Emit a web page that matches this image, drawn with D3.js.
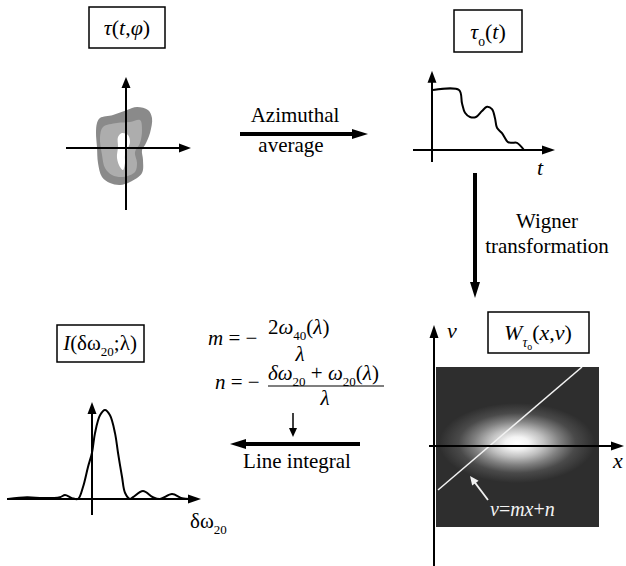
<!DOCTYPE html>
<html><head><meta charset="utf-8">
<script src="https://cdn.jsdelivr.net/npm/d3@7"></script>
<style>body{margin:0;background:#fff} svg{display:block}</style>
</head><body><svg id="c" width="626" height="566"></svg>
<script>
// ---------- data ----------
// tau(t,phi) contour levels (outer, middle, inner)
const blobOuter  = [[-29,25],[-26,30],[-13,33],[1,38],[11,41],[22,38],[26,30],[24,15],[19,3],[16,-2],[17,-12],[16,-25],[4,-34],[-6,-37],[-16,-35],[-24,-29],[-28,-15],[-29,1],[-30,15]];
const blobMiddle = [[-26,11],[-23,21],[-9,25],[4,26],[14,28],[16,18],[14,5],[9,-4],[11,-15],[9,-24],[-3,-29],[-14,-27],[-21,-20],[-24,-7]];
const blobInner  = [[-8,11],[-4,15],[2,13],[4,6],[2,0],[-1,-7],[-1,-15],[-3,-22],[-6,-19],[-9,-10],[-8,1]];
const blobShades = ["#8a8a8a","#adadad","#ffffff"];
// tau_o(t)
const tau0T = [0.1,2.7,3.0,3.3,3.8,4.4,5.0,5.5,6.0,6.3,6.5,7.0,7.6,8.0,8.5,9.2];
const tau0V = [1.0,1.0,0.78,0.62,0.55,0.55,0.65,0.72,0.68,0.53,0.37,0.28,0.13,0.12,0.12,0.0];
// I(dw20; lambda)
const intensityX = [-8.4,-6.5,-4.9,-3.2,-2.7,-2.0,-1.4,-0.9,-0.4,0.0,0.3,0.8,1.3,1.8,2.3,2.6,3.0,3.3,3.8,4.1,5.1,6.1,6.8,8.0,9.0,9.8];
const intensityY = [0,0.02,0.01,0.02,0.045,0.01,0,0.135,0.36,0.52,0.74,0.94,1.0,0.94,0.74,0.52,0.25,0.07,0,0.02,0.09,0.02,0,0.055,0.01,0];
// Wigner distribution and line nu = m x + n
const wignerPeak = [8.3, 0.3];
const wignerSpread = [7.8, 4.0];
const wignerExtent = [[0.2, 16.5],[-8.1, 7.9]];
const lineSlope = 0.854, lineIntercept = -4.74;
const lineXRange = [0.4, 14.8];

// choose an installed serif face
function pickFont(){
  const c = document.createElement("canvas").getContext("2d");
  const s = "Azimuthal average Line integral WMmil";
  c.font = "40px monospace"; const mono = c.measureText(s).width;
  c.font = "40px sans-serif"; const sans = c.measureText(s).width;
  const cands = ["Liberation Serif","DejaVu Serif","Noto Serif","Tinos","Times New Roman","FreeSerif","Nimbus Roman","Nimbus Roman No9 L","Times","Georgia","Noto Serif CJK SC","Noto Serif CJK JP","Source Serif Pro","Bitstream Vera Serif"];
  for(const f of cands){
    c.font = `40px '${f}', monospace`;
    const w = c.measureText(s).width;
    if(Math.abs(w-mono)>0.5) return `'${f}', serif`;
  }
  return "serif";
}
const FONT = pickFont();
const svg = d3.select("#c");
svg.append("rect").attr("width",626).attr("height",566).attr("fill","#fff");

function rich(x,y,parts,size,anchor,fill){
  const t = svg.append("text").attr("x",x).attr("y",y).attr("font-size",size)
    .attr("font-family",FONT)
    .attr("text-anchor",anchor||"start").attr("fill",fill||"#000");
  let shift=0;
  parts.forEach(([s,st])=>{
    const ts=t.append("tspan").text(s);
    if(st.includes("i")) ts.attr("font-style","italic");
    let want = 0, fs = size;
    if(st.includes("ss")){ want = size*0.45; fs = size*0.45; }
    else if(st.includes("s")){ want = size*0.3; fs = size*0.62; }
    if(want!==shift){ ts.attr("dy", want-shift); shift=want; }
    if(fs!==size) ts.attr("font-size", fs);
  });
  return t;
}
function arrow(x1,y1,x2,y2,w,hl,hw,color){
  color=color||"#000";
  const dx=x2-x1, dy=y2-y1, L=Math.hypot(dx,dy), ux=dx/L, uy=dy/L;
  const bx=x2-ux*hl, by=y2-uy*hl;
  svg.append("line").attr("x1",x1).attr("y1",y1).attr("x2",bx+ux*2).attr("y2",by+uy*2)
    .attr("stroke",color).attr("stroke-width",w);
  svg.append("path").attr("d",`M${x2},${y2}L${bx-uy*hw/2},${by+ux*hw/2}L${bx+uy*hw/2},${by-ux*hw/2}Z`).attr("fill",color);
}
function box(x,y,w,h){
  svg.append("rect").attr("x",x).attr("y",y).attr("width",w).attr("height",h)
    .attr("fill","none").attr("stroke","#000").attr("stroke-width",1.5);
}

// ---------- panel 1: tau(t,phi) ----------
const x1s = d3.scaleLinear().domain([-60,65]).range([66,191]);
const y1s = d3.scaleLinear().domain([-62,71]).range([210,77]);
const blobLine = d3.line().x(d=>x1s(d[0])).y(d=>y1s(d[1])).curve(d3.curveCatmullRomClosed.alpha(0.5));
[blobOuter,blobMiddle,blobInner].forEach((b,i)=>{
  svg.append("path").attr("d",blobLine(b)).attr("fill",blobShades[i]);
});
arrow(x1s(0),y1s(-62),x1s(0),y1s(71),2,11,9);
arrow(x1s(-60),y1s(0),x1s(65),y1s(0),2,12,9);
box(89,7,76,41);
rich(127,35,[["τ","i"],["(","n"],["t","i"],[",","n"],["φ","i"],[")","n"]],22,"middle");

// ---------- panel 2: tau_o(t) ----------
const x2s = d3.scaleLinear().domain([-1.9,12.3]).range([413,555]);
const y2s = d3.scaleLinear().domain([0,1]).range([150,90]);
const tauLine = d3.line().x(d=>x2s(d[0])).y(d=>y2s(d[1])).curve(d3.curveCatmullRom.alpha(0.5));
svg.append("path").attr("d",tauLine(tau0T.map((t,i)=>[t,tau0V[i]])))
  .attr("fill","none").attr("stroke","#000").attr("stroke-width",2);
arrow(x2s(0),y2s(-0.2),x2s(0),y2s(1.32),2,12,9);
arrow(x2s(-1.9),y2s(0),x2s(12.3),y2s(0),2,13,9);
rich(540,175,[["t","i"]],22,"middle");
box(454,10,68,42);
rich(488,39,[["τ","i"],["o","s"],["(","n"],["t","i"],[")","n"]],22,"middle");

// ---------- flow arrows and labels ----------
arrow(240,134,368,134,4,16,10);
rich(295,122,[["Azimuthal","n"]],21,"middle");
rich(291,152,[["average","n"]],21,"middle");
arrow(475,173,475,298,4,16,10);
rich(547,228,[["Wigner","n"]],21,"middle");
rich(547,253,[["transformation","n"]],21,"middle");

// formulas
rich(208,345,[["m","i"],[" = −","n"]],21);
rich(268,334,[["2","n"],["ω","i"],["40","s"],["(","n"],["λ","i"],[")","n"]],21);
rich(300,361,[["λ","i"]],21,"middle");
rich(215,389,[["n","i"],[" = −","n"]],21);
rich(268,380,[["δω","i"],["20","s"],[" + ","n"],["ω","i"],["20","s"],["(","n"],["λ","i"],[")","n"]],21);
svg.append("line").attr("x1",268).attr("x2",384).attr("y1",386).attr("y2",386).attr("stroke","#000").attr("stroke-width",1.2);
rich(325,405,[["λ","i"]],21,"middle");
arrow(293,413,293,437,1.5,9,8);
arrow(360,444,230,444,4,16,10);
rich(297,468,[["Line integral","n"]],21,"middle");

// ---------- panel 3: I(dw20;lambda) ----------
const x3s = d3.scaleLinear().domain([0,10]).range([92,192]);
const y3s = d3.scaleLinear().domain([0,1]).range([499,410]);
const iLine = d3.line().x(d=>x3s(d[0])).y(d=>y3s(d[1])).curve(d3.curveCatmullRom.alpha(0.5));
arrow(x3s(-8.5),y3s(0),x3s(10.9),y3s(0),2,13,9);
arrow(x3s(0),y3s(-0.18),x3s(0),y3s(1.09),2,12,9);
svg.append("path").attr("d",iLine(intensityX.map((x,i)=>[x,intensityY[i]])))
  .attr("fill","none").attr("stroke","#000").attr("stroke-width",2);
box(57,325,87,37);
rich(100,350,[["I","i"],["(δω","n"],["20","s"],[";λ)","n"]],21,"middle");
rich(190,528,[["δω","n"],["20","s"]],21);

// ---------- panel 4: Wigner ----------
const x4s = d3.scaleLinear().domain([0,10]).range([434,534]);
const y4s = d3.scaleLinear().domain([0,10]).range([446,346]);
const defs = svg.append("defs");
const grad = defs.append("radialGradient").attr("id","glow");
[[0,"#ffffff"],[0.15,"#f4f4f4"],[0.35,"#c0c0c0"],[0.55,"#808080"],[0.75,"#4a4a4a"],[1,"#2e2e2e"]]
  .forEach(s=>grad.append("stop").attr("offset",s[0]).attr("stop-color",s[1]));
defs.append("clipPath").attr("id","wclip").append("rect")
  .attr("x",x4s(wignerExtent[0][0])).attr("y",y4s(wignerExtent[1][1]))
  .attr("width",x4s(wignerExtent[0][1])-x4s(wignerExtent[0][0]))
  .attr("height",y4s(wignerExtent[1][0])-y4s(wignerExtent[1][1]));
const wg = svg.append("g").attr("clip-path","url(#wclip)");
wg.append("rect").attr("x",x4s(wignerExtent[0][0])).attr("y",y4s(wignerExtent[1][1]))
  .attr("width",x4s(wignerExtent[0][1])-x4s(wignerExtent[0][0]))
  .attr("height",y4s(wignerExtent[1][0])-y4s(wignerExtent[1][1])).attr("fill","#2e2e2e");
wg.append("ellipse").attr("cx",x4s(wignerPeak[0])).attr("cy",y4s(wignerPeak[1]))
  .attr("rx",x4s(wignerSpread[0])-x4s(0)).attr("ry",y4s(0)-y4s(wignerSpread[1])).attr("fill","url(#glow)");
wg.append("line").attr("x1",x4s(lineXRange[0])).attr("y1",y4s(lineSlope*lineXRange[0]+lineIntercept))
  .attr("x2",x4s(lineXRange[1])).attr("y2",y4s(lineSlope*lineXRange[1]+lineIntercept))
  .attr("stroke","#f2f2f2").attr("stroke-width",1.5);
arrow(x4s(5.4),y4s(-5.4),x4s(3.6),y4s(-3.0),1.8,9,8,"#f0f0f0");
rich(490,516,[["ν","i"],["=","n"],["mx","i"],["+","n"],["n","i"]],20,"start","#f4f4f4");
arrow(x4s(-0.5),y4s(0),x4s(19),y4s(0),2,13,9);
arrow(x4s(0),y4s(-12),x4s(0),y4s(12.1),2,13,9);
rich(452,338,[["ν","i"]],22,"middle");
rich(618,468,[["x","i"]],22,"middle");
box(488,312,101,41);
rich(538,340,[["W","i"],["τ","si"],["o","ss"],["(","n"],["x","i"],[",","n"],["ν","i"],[")","n"]],22,"middle");
</script></body></html>
